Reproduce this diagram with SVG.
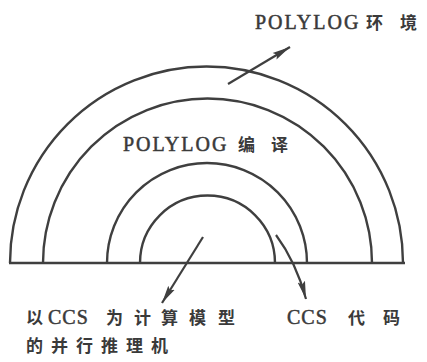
<svg xmlns="http://www.w3.org/2000/svg" width="427" height="362" viewBox="0 0 427 362">
  <style>
    .ring { fill: none; stroke: #3f3f3f; stroke-width: 2.4; }
    .base { fill: none; stroke: #3f3f3f; stroke-width: 2.6; }
    .conn { fill: none; stroke: #3f3f3f; stroke-width: 2.2; }
    .lat { font-family: "Liberation Serif", "DejaVu Serif", serif; font-size: 20px; fill: #3a3a3a; stroke: #3a3a3a; stroke-width: 0.5; letter-spacing: 2px; }
    .cjk { font-family: "Noto Sans CJK SC", "Noto Sans", sans-serif; font-size: 17px; fill: #3a3a3a; font-weight: bold; }
  </style>
  <defs>
    <marker id="ah" markerUnits="userSpaceOnUse" markerWidth="20" markerHeight="10" viewBox="0 -5 20 10" refX="18" refY="0" orient="auto">
      <path d="M0,-3.8 L18,0 L0,3.8 L3,0 z" fill="#3f3f3f"/>
    </marker>
  </defs>
  <rect width="427" height="362" fill="#ffffff"/>

  <g id="polylog-environment">
    <path class="ring" d="M10,263 A196.5,196.5 0 0 1 403,263"/>
    <text class="lat" x="255" y="29">POLYLOG</text>
    <text class="cjk" x="366" y="29">环</text>
    <text class="cjk" x="400" y="29">境</text>
  </g>

  <g id="polylog-compiler">
    <path class="ring" d="M43,263 A164.5,164.5 0 0 1 372,263"/>
    <text class="lat" x="123" y="151">POLYLOG</text>
    <text class="cjk" x="238" y="151">编</text>
    <text class="cjk" x="271" y="151">译</text>
  </g>

  <g id="ccs-code">
    <path class="ring" d="M107,263 A100,100 0 0 1 307,263"/>
    <text class="lat" x="287" y="324" style="letter-spacing:1px">CCS</text>
    <text class="cjk" x="348" y="324">代</text>
    <text class="cjk" x="383" y="324">码</text>
  </g>

  <g id="ccs-inference-machine">
    <path class="ring" d="M140,263 A67.5,67.5 0 0 1 275,263"/>
    <text class="cjk" x="26" y="324">以</text>
    <text class="lat" x="48" y="324" style="letter-spacing:1px">CCS</text>
    <text class="cjk" x="106" y="324">为</text>
    <text class="cjk" x="134" y="324">计</text>
    <text class="cjk" x="161" y="324">算</text>
    <text class="cjk" x="189" y="324">模</text>
    <text class="cjk" x="218" y="324">型</text>
    <text class="cjk" x="26" y="352">的</text>
    <text class="cjk" x="51" y="352">并</text>
    <text class="cjk" x="76" y="352">行</text>
    <text class="cjk" x="101" y="352">推</text>
    <text class="cjk" x="126" y="352">理</text>
    <text class="cjk" x="151" y="352">机</text>
  </g>

  <g id="base">
    <path class="base" d="M9,263 H405"/>
  </g>

  <g id="connectors">
    <path class="conn" marker-end="url(#ah)" d="M228,84 L290,47"/>
    <path class="conn" marker-end="url(#ah)" d="M203,237 L162,303"/>
    <path class="conn" marker-end="url(#ah)" d="M276,235 Q296,262 306,299"/>
  </g>
</svg>
